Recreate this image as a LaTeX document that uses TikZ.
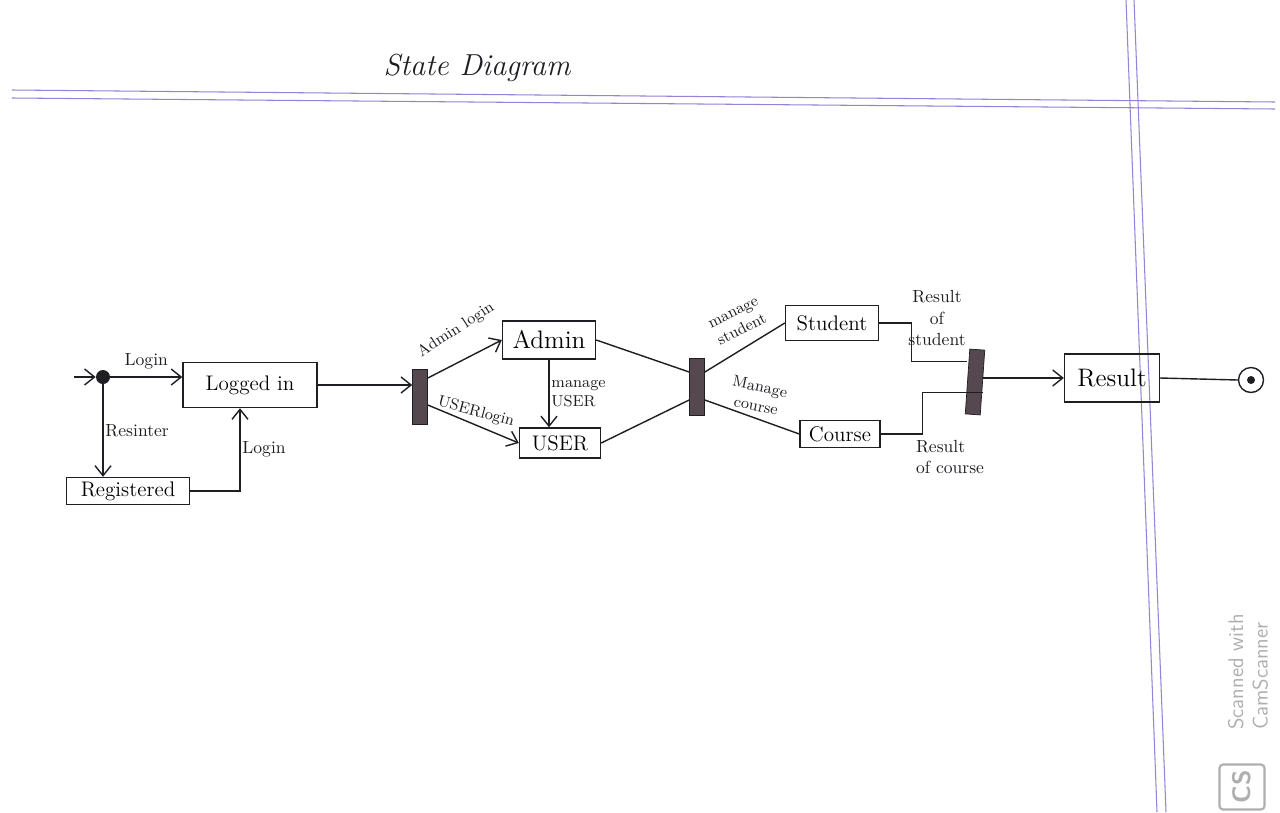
\documentclass[tikz,border=0pt]{standalone}
\usepackage{tikz}
\usetikzlibrary{arrows.meta,positioning,calc}
\definecolor{inkDark}{RGB}{30,30,35}
\definecolor{barFill}{RGB}{85,72,78}
\definecolor{ruleViolet}{RGB}{150,130,215}
\definecolor{markGray}{RGB}{175,175,175}
\tikzset{
  statebox/.style={
    rectangle, draw=inkDark, thick, font=\large, inner sep=2pt
  },
  syncbar/.style={
    rectangle, draw=inkDark, fill=barFill, minimum width=0.3cm
  },
  flow/.style={-{Straight Barb[length=2mm,width=3.2mm]}, thick, color=inkDark},
  link/.style={thick, color=inkDark}
}

\begin{document}
\begin{tikzpicture}[
    x=0.02cm, y=-0.02cm,
    tag/.style={font=\normalsize, color=inkDark, align=left, inner sep=1pt}
  ]
    \fill[white] (0,0) rectangle (1280,812);
    \useasboundingbox (0,0) rectangle (1280,812);

    % ruled paper
    \draw[ruleViolet, semithick] (12,90) -- (1275,102);
    \draw[ruleViolet, semithick] (12,98) -- (1275,109);
    \draw[ruleViolet, semithick] (1126,0) -- (1157,812);
    \draw[ruleViolet, semithick] (1134,0) -- (1166,812);

    \node[font=\LARGE\itshape, color=inkDark] (title) at (477,68) {State Diagram};

    % start and login
    \node[circle, fill=inkDark, minimum size=0.28cm, inner sep=0pt] (init) at (103,377) {};
    \coordinate (entry) at (74,377);
    \draw[flow] (entry) -- (init);
    \node[statebox, minimum width=2.68cm, minimum height=0.9cm] (logged) at (250,385) {Logged in};
    \node[statebox, minimum width=2.46cm, minimum height=0.54cm] (registered) at (128,491) {Registered};
    \draw[flow] (init) -- (init -| logged.west)
          node[tag, midway, above=3pt] {Login};
    \draw[flow] (init) -- (init |- registered.north)
          node[tag, midway, right] {Resinter};
    \draw[flow] (registered.east) -| ($(logged.south)+(-10,0)$)
          node[tag, pos=0.75, right] {Login};

    % admin / user
    \node[syncbar, minimum height=1.1cm] (fork) at (420,397) {};
    \draw[flow] (logged.east) -- (logged.east -| fork.west);
    \node[statebox, font=\Large, minimum width=1.86cm, minimum height=0.76cm] (admin) at (549,340) {Admin};
    \node[statebox, minimum width=1.62cm, minimum height=0.6cm] (user) at (560,443) {USER};
    \draw[flow] ($(fork.east)+(0,-19)$) -- (admin.west);
    \node[tag, rotate=33, font=\small] (adminlbl) at (456,330) {Admin login};
    \draw[flow] ($(fork.east)+(0,8)$) -- (user.west);
    \node[tag, rotate=-15, font=\small] (userlbl) at (476,412) {USERlogin};
    \draw[flow] (admin.south) -- (admin.south |- user.north)
          node[tag, midway, right, font=\small] {manage\\USER};

    % student / course
    \node[syncbar, minimum height=1.14cm] (split) at (697,387) {};
    \draw[link] (admin.east) -- ($(split.west)+(0,-15)$);
    \draw[link] (user.east) -- ($(split.west)+(0,13)$);
    \node[statebox, minimum width=1.86cm, minimum height=0.7cm] (student) at (832,323) {Student};
    \node[statebox, minimum width=1.6cm, minimum height=0.54cm] (course) at (840,434) {Course};
    \draw[link] ($(split.east)+(0,-15)$) -- (student.west);
    \node[tag, rotate=27, align=center, font=\small] (studlbl) at (738,322) {manage\\student};
    \draw[link] ($(split.east)+(0,13)$) -- (course.west);
    \node[tag, rotate=-12, align=center, font=\small] (courselbl) at (758,396) {Manage\\course};

    % results
    \node[syncbar, minimum height=1.3cm, rotate=-4] (join) at (975,382) {};
    \draw[link] (student.east) -- ++(32,0) |- ($(join.west)+(0,-20)$);
    \draw[link] (course.east) -- ++(42,0) |- ($(join.east)+(0,10)$);
    \node[tag, align=center] (resstud) at (937,318) {Result\\of\\student};
    \node[tag, align=left] (rescourse) at (950,457) {Result\\of course};
    \node[statebox, font=\Large, minimum width=1.9cm, minimum height=0.96cm] (result) at (1112,378) {Result};
    \draw[flow] (join.east |- result) -- (result.west);
    \node[circle, draw=inkDark, thick, minimum size=0.5cm, inner sep=0pt] (final) at (1251,380) {};
    \node[circle, fill=inkDark, minimum size=0.16cm, inner sep=0pt] (finaldot) at (final) {};
    \draw[link] (result.east) -- (final.west);

    % scanner mark
    \node[rotate=90, font=\large\sffamily, color=markGray, align=left] (scanmark) at (1248,672) {Scanned with\\CamScanner};
    \node[draw=markGray, very thick, rounded corners=2pt, font=\bfseries\sffamily\Large,
          color=markGray, rotate=90, minimum size=0.9cm, inner sep=1pt] (cslogo) at (1242,787) {CS};
\end{tikzpicture}
\end{document}
